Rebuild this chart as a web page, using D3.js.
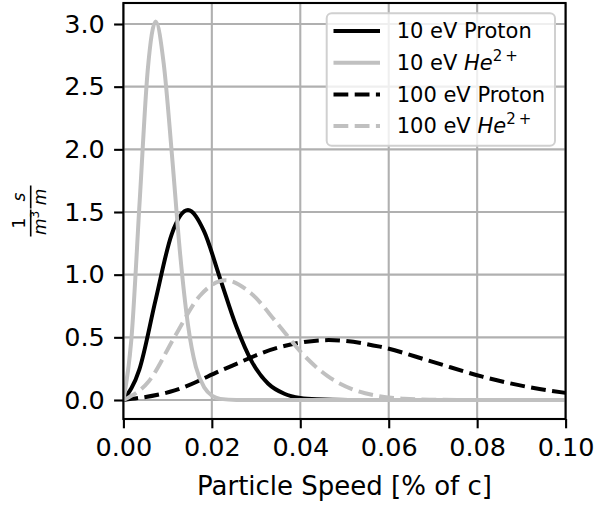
<!DOCTYPE html>
<html>
<head>
<meta charset="utf-8">
<script src="https://cdn.jsdelivr.net/npm/d3@7"></script>
<style>
  body { margin: 0; background: #fff; }
  text { font-family: "DejaVu Sans", sans-serif; }
</style>
</head>
<body>
<div id="chart"></div>
<script>
// speeds (% of c) and distribution values
var protonLowX  = [0, 0.0036, 0.0073, 0.0109, 0.0146, 0.0182, 0.0218, 0.0255, 0.0291, 0.0327, 0.0364, 0.04, 0.0437, 0.0509, 0.1];
var protonLowY  = [0, 0.242, 0.801, 1.320, 1.515, 1.349, 0.977, 0.590, 0.302, 0.132, 0.050, 0.016, 0.005, 0.0002, 0];

var heliumLowX  = [0, 0.0018, 0.0037, 0.0055, 0.0073, 0.0091, 0.011, 0.0128, 0.0146, 0.0164, 0.0183, 0.0201, 0.0219, 0.0256, 0.1];
var heliumLowY  = [0, 0.482, 1.598, 2.631, 3.02, 2.689, 1.947, 1.176, 0.601, 0.263, 0.099, 0.032, 0.009, 0.0005, 0];

var protonHighX = [0, 0.0116, 0.0232, 0.0348, 0.0464, 0.058, 0.0696, 0.0812, 0.0928, 0.1];
var protonHighY = [0, 0.0763, 0.2529, 0.4164, 0.478, 0.4256, 0.3081, 0.1861, 0.0952, 0.057];

var heliumHighX = [0, 0.0058, 0.0116, 0.0173, 0.0231, 0.0289, 0.0347, 0.0404, 0.0462, 0.052, 0.0578, 0.0635, 0.0693, 0.0808, 0.1];
var heliumHighY = [0, 0.152, 0.505, 0.832, 0.955, 0.850, 0.616, 0.372, 0.190, 0.083, 0.031, 0.0102, 0.0029, 0.0002, 0];

var xTicks = [0, 0.02, 0.04, 0.06, 0.08, 0.10];
var yTicks = [0, 0.5, 1.0, 1.5, 2.0, 2.5, 3.0];

var seriesNames = ["10 eV Proton", "10 eV He", "100 eV Proton", "100 eV He"];

var series = [
    {name: seriesNames[0], sup: null, color: "#000000", dash: null, xs: protonLowX, ys: protonLowY},
    {name: seriesNames[1], sup: "2+", color: "#c0c0c0", dash: null, xs: heliumLowX, ys: heliumLowY},
    {name: seriesNames[2], sup: null, color: "#000000", dash: "14.8,6.4", xs: protonHighX, ys: protonHighY},
    {name: seriesNames[3], sup: "2+", color: "#c0c0c0", dash: "14.8,6.4", xs: heliumHighX, ys: heliumHighY}
];

var svgWidth = 608;
var svgHeight = 506;

var margin = {top: 3, left: 123.4, right: 42.4, bottom: 87};
var width = svgWidth - margin.left - margin.right;
var height = svgHeight - margin.top - margin.bottom;

var svg = d3.select("#chart")
    .append("svg")
    .attr("width", svgWidth)
    .attr("height", svgHeight);

var chartGroup = svg.append("g")
    .attr("transform", `translate(${margin.left},${margin.top})`);

var xScale = d3.scaleLinear()
    .domain([0, 0.1])
    .range([0, width]);

var yScale = d3.scaleLinear()
    .domain([-0.1516, 3.1676])
    .range([height, 0]);

// grid
chartGroup.append("g")
    .selectAll("line.vgrid")
    .data(xTicks)
    .join("line")
    .attr("x1", d => xScale(d))
    .attr("x2", d => xScale(d))
    .attr("y1", 0)
    .attr("y2", height)
    .attr("stroke", "#b0b0b0")
    .attr("stroke-width", 2.1);

chartGroup.append("g")
    .selectAll("line.hgrid")
    .data(yTicks)
    .join("line")
    .attr("x1", 0)
    .attr("x2", width)
    .attr("y1", d => yScale(d))
    .attr("y2", d => yScale(d))
    .attr("stroke", "#b0b0b0")
    .attr("stroke-width", 2.1);

svg.append("clipPath")
    .attr("id", "plot-clip")
    .append("rect")
    .attr("width", width)
    .attr("height", height);

var drawLine = d3.line()
    .x(d => xScale(d[0]))
    .y(d => yScale(d[1]))
    .curve(d3.curveMonotoneX);

chartGroup.append("g")
    .attr("clip-path", "url(#plot-clip)")
    .selectAll("path")
    .data(series)
    .join("path")
    .attr("d", s => drawLine(s.xs.map((x, i) => [x, s.ys[i]])))
    .attr("fill", "none")
    .attr("stroke", s => s.color)
    .attr("stroke-width", 4)
    .attr("stroke-dasharray", s => s.dash);

// axes
var bottomAxis = d3.axisBottom(xScale)
    .tickValues(xTicks)
    .tickFormat(d3.format(".2f"))
    .tickSize(9.3)
    .tickPadding(9.3);

var leftAxis = d3.axisLeft(yScale)
    .tickValues(yTicks)
    .tickFormat(d3.format(".1f"))
    .tickSize(9.3)
    .tickPadding(9.3);

var xAxisGroup = chartGroup.append("g")
    .attr("transform", `translate(0,${height})`)
    .call(bottomAxis);

var yAxisGroup = chartGroup.append("g")
    .call(leftAxis);

[xAxisGroup, yAxisGroup].forEach(g => {
    g.select(".domain").remove();
    g.selectAll(".tick line").attr("stroke", "#000").attr("stroke-width", 2.1);
    g.selectAll(".tick text")
        .attr("fill", "#000")
        .style("font-size", "25.5px")
        .style("font-family", "DejaVu Sans");
});

// spines
chartGroup.append("rect")
    .attr("width", width)
    .attr("height", height)
    .attr("fill", "none")
    .attr("stroke", "#000")
    .attr("stroke-width", 2.1);

// x label
svg.append("text")
    .attr("x", margin.left + width / 2)
    .attr("y", 495)
    .attr("text-anchor", "middle")
    .style("font-size", "26px")
    .text("Particle Speed [% of c]");

// y label: 1/m^3 * s/m, rotated
var yLab = svg.append("g")
    .attr("transform", "translate(30.7,210) rotate(-90)");

function fraction(g, cx, barLen, num, den, denSup) {
    g.append("line")
        .attr("x1", cx - barLen / 2)
        .attr("x2", cx + barLen / 2)
        .attr("y1", 0)
        .attr("y2", 0)
        .attr("stroke", "#000")
        .attr("stroke-width", 1.6);
    g.append("text")
        .attr("x", cx)
        .attr("y", -5.5)
        .attr("text-anchor", "middle")
        .style("font-size", "17px")
        .style("font-style", num === "1" ? "normal" : "italic")
        .text(num);
    var t = g.append("text")
        .attr("x", cx)
        .attr("y", 15)
        .attr("text-anchor", "middle")
        .style("font-size", "17px");
    t.append("tspan").style("font-style", "italic").text(den);
    if (denSup) {
        t.append("tspan")
            .attr("dy", -7)
            .style("font-size", "12px")
            .text(denSup);
    }
}
fraction(yLab, -13, 27, "1", "m", "3");
fraction(yLab, 13, 23, "s", "m", null);

// legend
var legendGroup = svg.append("g");

legendGroup.append("rect")
    .attr("x", 326.7)
    .attr("y", 13.3)
    .attr("width", 228.3)
    .attr("height", 132.4)
    .attr("rx", 5)
    .attr("fill", "#fff")
    .attr("fill-opacity", 0.8)
    .attr("stroke", "#d0d0d0")
    .attr("stroke-width", 2);

var rows = legendGroup.selectAll("g.row")
    .data(series)
    .join("g")
    .attr("transform", (d, i) => `translate(0,${38.3 + i * 31.7})`);

rows.append("line")
    .attr("x1", 333.5)
    .attr("x2", 380)
    .attr("y1", -7.3)
    .attr("y2", -7.3)
    .attr("stroke", d => d.color)
    .attr("stroke-width", 4)
    .attr("stroke-dasharray", d => d.dash);

rows.append("text")
    .attr("x", 396.7)
    .attr("y", 0)
    .style("font-size", "21px")
    .each(function(d) {
        var t = d3.select(this);
        if (d.sup) {
            var parts = d.name.split(" ");
            t.append("tspan").text(parts[0] + " " + parts[1] + " ");
            t.append("tspan").style("font-style", "italic").text(parts[2]);
            t.append("tspan")
                .attr("dy", -9)
                .style("font-size", "15px")
                .text("2\u2009+");
        } else {
            t.text(d.name);
        }
    });
</script>
</body>
</html>
